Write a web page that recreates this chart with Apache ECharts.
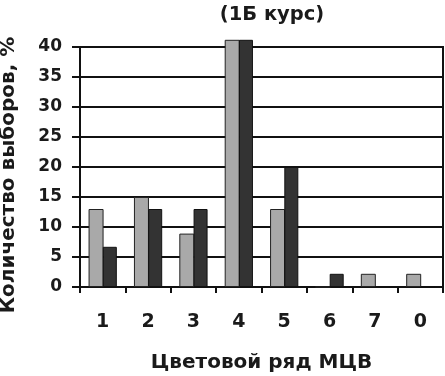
<!DOCTYPE html>
<html><head><meta charset="utf-8">
<script src="https://cdn.jsdelivr.net/npm/echarts@6/dist/echarts.min.js"></script>
<style>html,body{margin:0;padding:0;background:#fff}#c{width:445px;height:376px}</style>
</head><body><div id="c"></div>
<script>
const categories = ['1','2','3','4','5','6','7','0'];
const seriesLight = [13, 15, 8.9, 41.2, 13, 0, 2.2, 2.2];
const seriesDark = [6.7, 13, 13, 41.2, 20, 2.2, 0, 0];
const yTicks = [0, 5, 10, 15, 20, 25, 30, 35, 40];

const chart = echarts.init(document.getElementById('c'), null, {renderer:'canvas'});
const font = '"DejaVu Sans", Arial, sans-serif';
const txt = '#1a1a1a';
chart.setOption({
  backgroundColor: '#fff',
  animation: false,
  title: {
    text: '(1Б курс)', left: 267, top: 0, textAlign: 'center',
    textStyle: {fontFamily: font, fontWeight: 'bold', fontSize: 19.5, color: txt}
  },
  grid: {left: 80, right: 2, top: 47, bottom: 89, containLabel: false, outerBoundsMode: 'none',
    show: true, borderColor: '#111', borderWidth: 2},
  xAxis: {
    type: 'category', data: categories,
    name: 'Цветовой ряд МЦВ', nameLocation: 'middle', nameGap: 66,
    nameTextStyle: {fontFamily: font, fontWeight: 'bold', fontSize: 20, color: txt},
    axisLine: {lineStyle: {color: '#111', width: 2}},
    axisTick: {show: true, length: 6, lineStyle: {color: '#111', width: 2}},
    axisLabel: {fontFamily: font, fontWeight: 'bold', fontSize: 19, color: txt, margin: 26}
  },
  yAxis: {
    type: 'value', min: 0, max: 40, interval: 5,
    name: 'Количество выборов, %', nameLocation: 'middle', nameGap: 61, nameRotate: 90,
    nameTextStyle: {fontFamily: font, fontWeight: 'bold', fontSize: 20, color: txt, padding: [0, 16, 0, 0]},
    axisLine: {show: true, lineStyle: {color: '#111', width: 2}},
    axisTick: {show: true, inside: false, length: 8, lineStyle: {color: '#111', width: 2}},
    axisLabel: {fontFamily: font, fontWeight: 'bold', fontSize: 17, color: txt, margin: 18,
      formatter: v => yTicks.includes(v) ? String(v) : ''},
    splitLine: {show: true, lineStyle: {color: '#111', width: 2}}
  },
  series: [
    {type: 'bar', data: seriesLight, clip: false, barWidth: 15, barGap: '-5%',
     itemStyle: {color: '#a9a9a9', borderColor: '#222', borderWidth: 1}},
    {type: 'bar', data: seriesDark, clip: false, barWidth: 14,
     itemStyle: {color: '#333333', borderColor: '#111', borderWidth: 1}}
  ]
});
</script></body></html>
